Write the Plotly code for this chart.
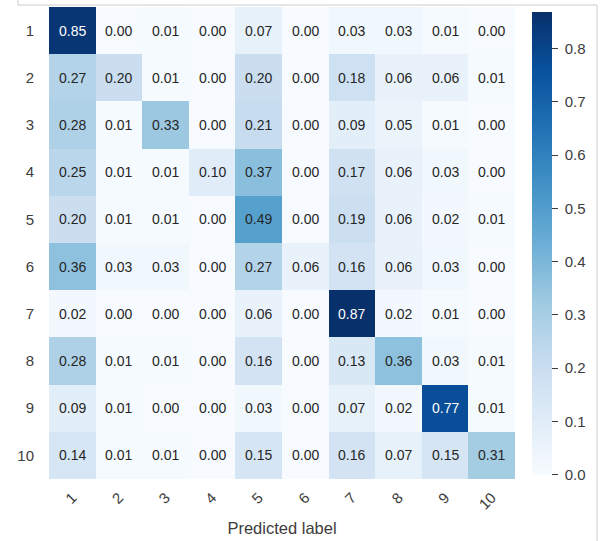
import plotly.graph_objects as go
import plotly.colors as pc

# Normalized confusion matrix (rows = true label, columns = predicted label)
labels = ["1", "2", "3", "4", "5", "6", "7", "8", "9", "10"]
row_1 = [0.85, 0.00, 0.01, 0.00, 0.07, 0.00, 0.03, 0.03, 0.01, 0.00]
row_2 = [0.27, 0.20, 0.01, 0.00, 0.20, 0.00, 0.18, 0.06, 0.06, 0.01]
row_3 = [0.28, 0.01, 0.33, 0.00, 0.21, 0.00, 0.09, 0.05, 0.01, 0.00]
row_4 = [0.25, 0.01, 0.01, 0.10, 0.37, 0.00, 0.17, 0.06, 0.03, 0.00]
row_5 = [0.20, 0.01, 0.01, 0.00, 0.49, 0.00, 0.19, 0.06, 0.02, 0.01]
row_6 = [0.36, 0.03, 0.03, 0.00, 0.27, 0.06, 0.16, 0.06, 0.03, 0.00]
row_7 = [0.02, 0.00, 0.00, 0.00, 0.06, 0.00, 0.87, 0.02, 0.01, 0.00]
row_8 = [0.28, 0.01, 0.01, 0.00, 0.16, 0.00, 0.13, 0.36, 0.03, 0.01]
row_9 = [0.09, 0.01, 0.00, 0.00, 0.03, 0.00, 0.07, 0.02, 0.77, 0.01]
row_10 = [0.14, 0.01, 0.01, 0.00, 0.15, 0.00, 0.16, 0.07, 0.15, 0.31]
matrix = [row_1, row_2, row_3, row_4, row_5, row_6, row_7, row_8, row_9, row_10]
cbar_ticks = [0.0, 0.1, 0.2, 0.3, 0.4, 0.5, 0.6, 0.7, 0.8]

zmax = max(max(r) for r in matrix)
blues = pc.sequential.Blues
scale = [[i / (len(blues) - 1), c] for i, c in enumerate(blues)]

FONT = "Liberation Sans, Arial, sans-serif"
TXT = "rgb(38,38,38)"
TICK = "rgb(60,60,60)"

fig = go.Figure(
    go.Heatmap(
        z=matrix,
        x=labels,
        y=labels,
        colorscale=scale,
        zmin=0,
        zmax=zmax,
        colorbar=dict(
            x=1.0365,
            xanchor="left",
            xpad=0,
            y=0.5,
            yanchor="middle",
            ypad=0,
            len=0.98,
            lenmode="fraction",
            thickness=20,
            thicknessmode="pixels",
            outlinewidth=0,
            tickvals=cbar_ticks,
            ticktext=[f"\u00a0{v:.1f}" for v in cbar_ticks],
            ticks="outside",
            ticklen=6,
            tickwidth=1.2,
            tickcolor=TICK,
            tickfont=dict(family=FONT, size=15, color=TICK),
        ),
        hoverinfo="skip",
    )
)

# Cell value labels (positioned by category index), light text on dark cells
for i, row in enumerate(matrix):
    for j, v in enumerate(row):
        fig.add_annotation(
            x=j,
            y=i,
            text=f"{v:.2f}",
            showarrow=False,
            font=dict(family=FONT, size=14,
                      color="white" if v > 0.6 else TXT),
        )

# Thin light-gray frame around the figure
frame = dict(type="line", xref="paper", yref="paper",
             line=dict(color="rgb(205,205,205)", width=1))
fig.add_shape(x0=-0.0665, x1=-0.0665, y0=1.0042, y1=1.02, **frame)
fig.add_shape(x0=-0.0665, x1=1.176, y0=1.0042, y1=1.0042, **frame)
fig.add_shape(x0=1.176, x1=1.176, y0=1.0042, y1=-0.14, **frame)

fig.update_layout(
    width=607,
    height=541,
    margin=dict(l=49, r=92, t=7, b=60),
    paper_bgcolor="white",
    plot_bgcolor="white",
    font=dict(family=FONT, color=TXT),
    xaxis=dict(
        type="category",
        tickangle=-45,
        tickfont=dict(family=FONT, size=15, color=TICK),
        ticklabelstandoff=6,
        showgrid=False,
        zeroline=False,
        showline=False,
        title=dict(text="Predicted label",
                   font=dict(family=FONT, size=16.5, color=TICK),
                   standoff=10),
    ),
    yaxis=dict(
        type="category",
        autorange="reversed",
        tickfont=dict(family=FONT, size=15, color=TICK),
        ticklabelstandoff=14,
        showgrid=False,
        zeroline=False,
        showline=False,
    ),
)

fig.write_html("out.html")
